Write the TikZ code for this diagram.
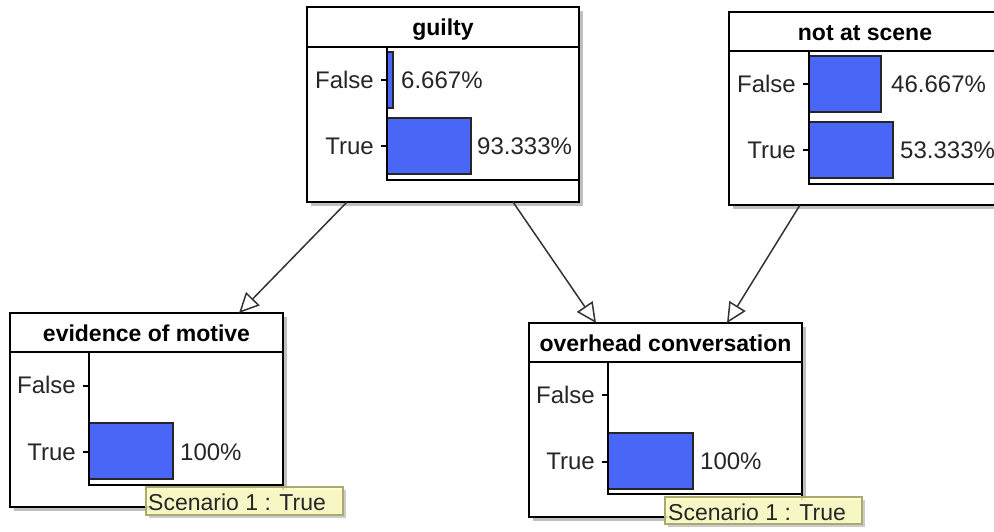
\documentclass[tikz,border=0pt]{standalone}
\usepackage{fontspec}
\setmainfont{Liberation Sans}
\usetikzlibrary{arrows.meta,shadows}
\definecolor{barblue}{RGB}{74,102,246}
\definecolor{tipfill}{RGB}{255,255,196}
\definecolor{tipdraw}{RGB}{170,170,110}
\begin{document}
\begin{tikzpicture}[x=1pt,y=-1pt,
  netbox/.style={draw=black, line width=2pt, fill=white, inner sep=0pt, outer sep=0pt, anchor=north west,
    drop shadow={shadow xshift=4pt, shadow yshift=-4pt, fill=black!25, opacity=1}},
  tipbox/.style={draw=tipdraw, line width=1.2pt, fill=tipfill, fill opacity=0.85, inner sep=0pt, outer sep=0pt, anchor=north west,
    drop shadow={shadow xshift=3pt, shadow yshift=-3pt, fill=black!20, opacity=1}},
  titletxt/.style={font=\bfseries\fontsize{23}{23}\selectfont, anchor=base, inner sep=0pt},
  lbl/.style={font=\fontsize{24}{24}\selectfont, anchor=base east, inner sep=0pt, text=black!85},
  pct/.style={font=\fontsize{24}{24}\selectfont, anchor=base west, inner sep=0pt, text=black!85},
  tiptxt/.style={font=\fontsize{23}{23}\selectfont, anchor=base west, inner sep=0pt, text=black!85},
  bar/.style={draw=black!85, line width=1.5pt, fill=barblue},
  axisline/.style={draw=black, line width=1.5pt},
  sepline/.style={draw=black, line width=2pt},
  link/.style={draw=black!80, line width=1.5pt, -{Triangle[open, length=20pt, width=19pt, line width=1.5pt]}}
]
\useasboundingbox (0,0) rectangle (994,531);
\clip (0,0) rectangle (994,531);
\fill[white] (0,0) rectangle (994,531);

% guilty
\node[netbox, minimum width=272pt, minimum height=195pt] (guilty) at (307,7) {};
\draw[sepline] (307,47) -- (579,47);
\node[titletxt] (guiltyT) at (443,35) {guilty};
\draw[bar] (387,52) rectangle (393,108);
\draw[bar] (387,118) rectangle (471,174);
\draw[axisline] (387,47) -- (387,180) -- (579,180);
\draw[axisline] (381,80) -- (387,80);
\draw[axisline] (381,146) -- (387,146);
\node[lbl] (gF) at (374,88.5) {False};
\node[lbl] (gT) at (374,154.5) {True};
\node[pct] (gFp) at (401,88.5) {6.667\%};
\node[pct] (gTp) at (477,154.5) {93.333\%};

% not at scene
\node[netbox, minimum width=272pt, minimum height=193pt] (scene) at (729,12) {};
\draw[sepline] (729,51) -- (1001,51);
\node[titletxt] (sceneT) at (865,40) {not at scene};
\draw[bar] (809,56) rectangle (881,112);
\draw[bar] (809,122) rectangle (893,178);
\draw[axisline] (809,51) -- (809,184) -- (1001,184);
\draw[axisline] (803,84) -- (809,84);
\draw[axisline] (803,150) -- (809,150);
\node[lbl] (sF) at (796,92) {False};
\node[lbl] (sT) at (796,158) {True};
\node[pct] (sFp) at (891,92) {46.667\%};
\node[pct] (sTp) at (900,158) {53.333\%};

% evidence of motive
\node[netbox, minimum width=273pt, minimum height=194pt] (motive) at (10,313) {};
\draw[sepline] (10,352) -- (283,352);
\node[titletxt] (motiveT) at (146.5,341) {evidence of motive};
\draw[bar] (89,423) rectangle (173,479);
\draw[axisline] (89,352) -- (89,485) -- (283,485);
\draw[axisline] (83,386) -- (89,386);
\draw[axisline] (83,452) -- (89,452);
\node[lbl] (mF) at (76,393) {False};
\node[lbl] (mT) at (76,460) {True};
\node[pct] (mTp) at (180,460) {100\%};
\node[tipbox, minimum width=197pt, minimum height=28pt] (tip1) at (146,487) {};
\node[tiptxt] (tip1T) at (148,510) {Scenario 1 : True};

% overhead conversation
\node[netbox, minimum width=273pt, minimum height=194pt] (overhead) at (529,323) {};
\draw[sepline] (529,362) -- (802,362);
\node[titletxt] (overheadT) at (665.5,351) {overhead conversation};
\draw[bar] (608,433) rectangle (693,489);
\draw[axisline] (608,362) -- (608,494) -- (802,494);
\draw[axisline] (602,395) -- (608,395);
\draw[axisline] (602,462) -- (608,462);
\node[lbl] (oF) at (595,403) {False};
\node[lbl] (oT) at (595,469) {True};
\node[pct] (oTp) at (700,469) {100\%};
\node[tipbox, minimum width=197pt, minimum height=27pt] (tip2) at (665,497) {};
\node[tiptxt] (tip2T) at (668,520) {Scenario 1 : True};

% links
\draw[link] ([xshift=40pt]guilty.south west) -- ([xshift=229pt]motive.north west);
\draw[link] ([xshift=206pt]guilty.south west) -- ([xshift=67pt]overhead.north west);
\draw[link] ([xshift=71pt]scene.south west) -- ([xshift=198pt]overhead.north west);
\end{tikzpicture}
\end{document}
